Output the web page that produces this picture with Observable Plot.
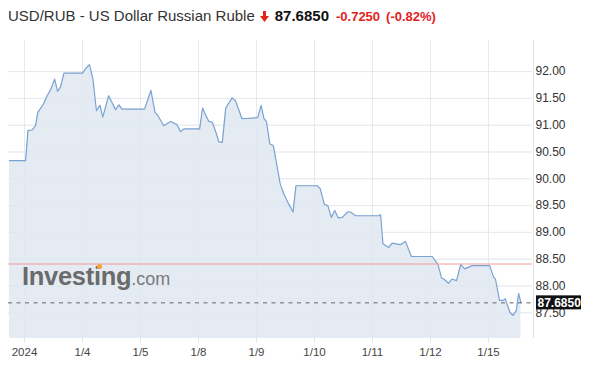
<!DOCTYPE html>
<html><head><meta charset="utf-8">
<script src="https://cdn.jsdelivr.net/npm/d3@7"></script>
<script src="https://cdn.jsdelivr.net/npm/@observablehq/plot@0.6"></script>
<style>
body{margin:0;background:#fff;font-family:"Liberation Sans",Arial,sans-serif;width:590px;height:377px;overflow:hidden;}
#hdr{height:30px;box-sizing:border-box;padding:7px 0 0 8px;line-height:18px;white-space:nowrap;}
#hdr .t{font-size:15px;color:#333;}
#hdr .p{font-size:15px;color:#111;font-weight:bold;}
#hdr .c{font-size:13px;color:#e3231c;font-weight:bold;}
#chart{position:relative;height:347px;}
</style></head><body>
<div id="hdr"></div>
<div id="chart"></div>
<script>
const title = "USD/RUB - US Dollar Russian Ruble";
const lastPrice = 87.685;
const change = -0.725;
const changePct = -0.82;
const prevClose = 88.41;
const tickLabels = ["2024","1/4","1/5","1/8","1/9","1/10","1/11","1/12","1/15"];
const tickDays = [0,1,2,3,4,5,6,7,8];
const yTicks = [87.5,88,88.5,89,89.5,90,90.5,91,91.5,92];
const dayPos = [-0.26,0.02,0.06,0.13,0.19,0.23,0.33,0.39,0.45,0.52,
0.57,0.62,0.68,1.00,1.05,1.12,1.18,1.24,1.30,1.35,
1.45,1.57,1.63,1.68,2.07,2.18,2.25,2.30,2.40,2.52,
2.63,2.69,2.75,3.02,3.07,3.14,3.18,3.24,3.29,3.35,
3.41,3.47,3.58,3.64,3.75,4.02,4.08,4.13,4.17,4.23,
4.29,4.41,4.47,4.54,4.63,4.68,5.05,5.10,5.17,5.23,
5.29,5.35,5.41,5.48,5.57,5.62,5.71,6.11,6.14,6.18,
6.28,6.34,6.48,6.57,6.67,7.03,7.13,7.19,7.23,7.31,
7.37,7.45,7.52,7.59,7.72,8.02,8.09,8.12,8.19,8.25,
8.29,8.37,8.42,8.48,8.52,8.56];
const price = [90.34,90.34,90.90,90.91,90.99,91.24,91.40,91.55,91.66,91.86,
91.63,91.71,91.97,91.97,92.05,92.13,91.86,91.27,91.37,91.15,
91.55,91.29,91.38,91.30,91.30,91.65,91.24,91.18,90.99,91.07,
91.01,90.88,90.93,90.93,91.32,91.15,91.07,91.05,90.90,90.69,
90.68,91.32,91.51,91.45,91.12,91.14,91.37,91.12,91.07,90.65,
90.62,89.90,89.72,89.56,89.38,89.87,89.87,89.81,89.52,89.50,
89.28,89.41,89.27,89.28,89.38,89.38,89.31,89.31,89.33,88.79,
88.72,88.80,88.77,88.83,88.55,88.55,88.40,88.15,88.13,88.05,
88.13,88.10,88.40,88.32,88.38,88.38,88.16,88.13,87.73,87.73,
87.76,87.51,87.45,87.54,87.86,87.685];

const xDomain = [-0.276, 8.759];
const yDomain = [87.02, 92.58];
const data = dayPos.map((t, i) => ({t, v: price[i]}));

// header
const hdr = document.getElementById("hdr");
hdr.innerHTML = `<span class="t">${title}</span>` +
  `<svg width="9" height="11" viewBox="0 0 9 11" style="margin:0 6px 0 5px;vertical-align:-1px"><path d="M3 0h3v5h3l-4.5 6L0 5h3z" fill="#e3231c"/></svg>` +
  `<span class="p">${lastPrice.toFixed(4)}</span>` +
  `<span class="c" style="margin-left:7px">${change.toFixed(4)}</span>` +
  `<span class="c" style="margin-left:6px">(${changePct.toFixed(2)}%)</span>`;

const W = 590, H = 347, mL = 8, mR = 58, mT = 10, mB = 39;
const chart = Plot.plot({
  width: W, height: H,
  marginLeft: mL, marginRight: mR, marginTop: mT, marginBottom: mB,
  style: {fontFamily: "Liberation Sans, Arial, sans-serif", fontSize: "12px", background: "#fff"},
  x: {type: "linear", domain: xDomain},
  y: {domain: yDomain},
  marks: [
    Plot.gridY(yTicks, {stroke: "#efefef", strokeOpacity: 1}),
    Plot.gridX(tickDays, {stroke: "#efefef", strokeOpacity: 1}),
    Plot.areaY(data, {x: "t", y1: yDomain[0], y2: "v", fill: "#e4ebf3", curve: "linear"}),
    Plot.gridY(yTicks, {stroke: "#dfe6ee", strokeOpacity: 0.6}),
    Plot.gridX(tickDays, {stroke: "#dfe6ee", strokeOpacity: 0.6}),
    Plot.lineY(data, {x: "t", y: "v", stroke: "#7aa2d2", strokeWidth: 1.2}),
    Plot.ruleY([prevClose], {stroke: "#f09a9a", strokeWidth: 1}),
    Plot.ruleY([lastPrice], {stroke: "#666", strokeWidth: 1, strokeDasharray: "4,4.5"}),
    Plot.ruleX([xDomain[1]], {stroke: "#e3e3e3", dx: 1}),
    Plot.axisY({anchor: "right", ticks: yTicks, tickFormat: d => d.toFixed(2), tickSize: 0, tickPadding: 3, fontSize: 12, fill: "#333", label: null}),
    Plot.axisX({ticks: tickDays, tickSize: 5, tickFormat: () => "", stroke: "#e3e3e3", label: null}),
    Plot.axisX({ticks: tickDays, tickSize: 0, tickPadding: 9, tickFormat: i => tickLabels[i], fontSize: 11.5, fill: "#444", label: null})
  ]
});
const svg = d3.select(chart);
// last price label
const yLast = chart.scale("y").apply(lastPrice);
const bx = W - mR + 4;
svg.append("rect").attr("x", bx).attr("y", yLast - 7).attr("width", 45).attr("height", 14).attr("fill", "#111");
svg.append("text").attr("x", bx + 1.5).attr("y", yLast + 4.3).attr("fill", "#fff").attr("text-anchor", "start")
  .attr("font-size", 12).attr("font-weight", "bold").text(lastPrice.toFixed(4));
// watermark
const wm = svg.append("text").attr("x", 22).attr("y", 254.5).attr("text-anchor", "start");
wm.append("tspan").attr("font-size", 25.5).attr("font-weight", "bold").attr("fill", "#6b6b6b").attr("letter-spacing", -0.3).text("Investing");
wm.append("tspan").attr("font-size", 18).attr("fill", "#7a7a7a").text(".com");
svg.append("circle").attr("cx", 99.5).attr("cy", 236.5).attr("r", 2.6).attr("fill", "#f5a33b");
document.getElementById("chart").appendChild(chart);
</script>
</body></html>
